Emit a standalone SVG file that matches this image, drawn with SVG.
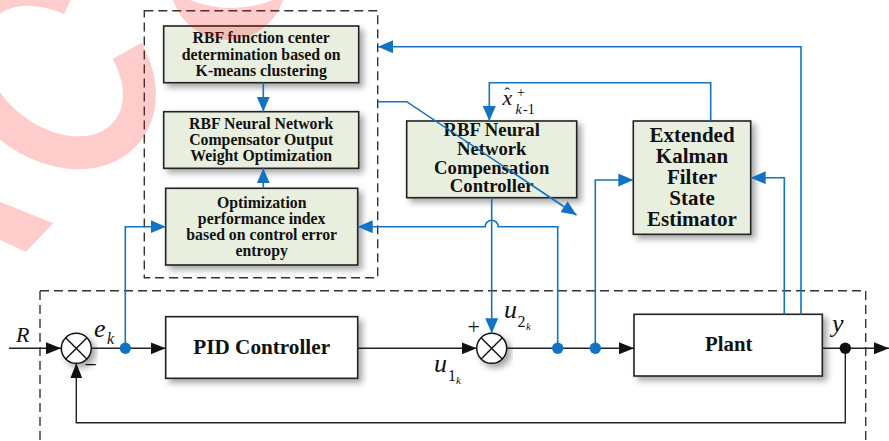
<svg xmlns="http://www.w3.org/2000/svg" width="889" height="441" viewBox="0 0 889 441">
<style>
.bx{fill:#e9efdf;stroke:#222;stroke-width:1.6}
.wb{fill:#fff;stroke:#222;stroke-width:1.6}
.t{font-family:'Liberation Serif','DejaVu Serif',serif;font-weight:bold;fill:#111;text-anchor:middle}
.it{font-family:'Liberation Serif','DejaVu Serif',serif;font-style:italic;fill:#111}
.up{font-family:'Liberation Serif','DejaVu Serif',serif;fill:#111}
.dash{fill:none;stroke:#333;stroke-width:1.4;stroke-dasharray:9 5}
.bl{fill:none;stroke:#222;stroke-width:1.4}
.bu{fill:none;stroke:#1272c4;stroke-width:1.6}
</style>
<defs>
<filter id="sh" x="-10%" y="-10%" width="130%" height="140%">
<feDropShadow dx="4" dy="4" stdDeviation="3" flood-color="#000" flood-opacity="0.35"/>
</filter>
<marker id="ak" markerUnits="userSpaceOnUse" markerWidth="16" markerHeight="12" refX="15" refY="6" orient="auto">
<path d="M0,0 L15,6 L0,12 z" fill="#111"/>
</marker>
<marker id="ab" markerUnits="userSpaceOnUse" markerWidth="16" markerHeight="13" refX="15" refY="6.5" orient="auto">
<path d="M0,0 L15,6.5 L0,13 z" fill="#1272c4"/>
</marker>
</defs>

<!-- dashed group boxes -->
<rect class="dash" x="144.3" y="10.7" width="233.4" height="267"/>
<rect class="dash" x="40" y="290.7" width="825.7" height="180"/>

<!-- nodes -->
<g id="kmeans">
<rect class="bx" x="163.7" y="26" width="195" height="56.7" filter="url(#sh)"/>
<text class="t" font-size="15.8"><tspan x="261.2" y="43.2">RBF function center</tspan><tspan x="261.2" y="59.6">determination based on</tspan><tspan x="261.2" y="75.8">K-means clustering</tspan></text>
</g>
<g id="weightopt">
<rect class="bx" x="163.7" y="111.7" width="195" height="56.6" filter="url(#sh)"/>
<text class="t" font-size="15.8"><tspan x="261.2" y="128.8">RBF Neural Network</tspan><tspan x="261.2" y="144.8">Compensator Output</tspan><tspan x="261.2" y="160.6">Weight Optimization</tspan></text>
</g>
<g id="perfindex">
<rect class="bx" x="165.7" y="188.3" width="192" height="76.7" filter="url(#sh)"/>
<text class="t" font-size="15.8"><tspan x="261.7" y="207.8">Optimization</tspan><tspan x="261.7" y="223.8">performance index</tspan><tspan x="261.7" y="239.8">based on control error</tspan><tspan x="261.7" y="255.6">entropy</tspan></text>
</g>
<g id="rbfcomp">
<rect class="bx" x="406.7" y="121" width="170" height="76.7" filter="url(#sh)"/>
<text class="t" font-size="18.7"><tspan x="491.7" y="136.3">RBF Neural</tspan><tspan x="491.7" y="155">Network</tspan><tspan x="491.7" y="173.7">Compensation</tspan><tspan x="491.7" y="192.3">Controller</tspan></text>
</g>
<g id="ekf">
<rect class="bx" x="633.3" y="121" width="117.4" height="113.3" filter="url(#sh)"/>
<text class="t" font-size="21"><tspan x="692" y="141.5">Extended</tspan><tspan x="692" y="162.7">Kalman</tspan><tspan x="692" y="183.9">Filter</tspan><tspan x="692" y="205.1">State</tspan><tspan x="692" y="226.3">Estimator</tspan></text>
</g>
<g id="pid">
<rect class="wb" x="165.7" y="316.7" width="192" height="61.6" filter="url(#sh)"/>
<text class="t" font-size="21.2" x="261.7" y="354.3">PID Controller</text>
</g>
<g id="plant">
<rect class="wb" x="634" y="314.3" width="188.3" height="61.7" filter="url(#sh)"/>
<text class="t" font-size="20.8" x="728.7" y="351.3">Plant</text>
</g>
<g id="sum1">
<circle cx="76.3" cy="348.3" r="15" fill="#fff" stroke="#111" stroke-width="1.5" filter="url(#sh)"/>
<path d="M65.7,337.7 L86.9,358.9 M86.9,337.7 L65.7,358.9" stroke="#111" stroke-width="1.4"/>
</g>
<g id="sum2">
<circle cx="491.7" cy="348.3" r="15" fill="#fff" stroke="#111" stroke-width="1.5" filter="url(#sh)"/>
<path d="M481.1,337.7 L502.3,358.9 M502.3,337.7 L481.1,358.9" stroke="#111" stroke-width="1.4"/>
</g>

<!-- connectors -->
<g id="connectors">
<path class="bl" d="M9,348.3 H61" marker-end="url(#ak)"/>
<path class="bl" d="M91.3,348.3 H165.7" marker-end="url(#ak)"/>
<path class="bl" d="M357.7,348.3 H476.7" marker-end="url(#ak)"/>
<path class="bl" d="M506.7,348.3 H634" marker-end="url(#ak)"/>
<path class="bl" d="M822.3,348.3 H889" marker-end="url(#ak)"/>
<path class="bl" d="M845.3,348.3 V422.7 H76.3 V363.3" marker-end="url(#ak)"/>

<path class="bu" d="M125.3,348.3 V226.7 H165.7" marker-end="url(#ab)"/>
<path class="bu" d="M557.7,348.3 V226.7 H498.2 A6.5,6.5 0 0 0 485.2,226.7 H357.7" marker-end="url(#ab)"/>
<path class="bu" d="M491.7,197.7 V333.3" marker-end="url(#ab)"/>
<path class="bu" d="M595.3,348.3 V180 H633.3" marker-end="url(#ab)"/>
<path class="bu" d="M784.3,314.3 V177.7 H750.7" marker-end="url(#ab)"/>
<path class="bu" d="M801,314.3 V46.7 H378" marker-end="url(#ab)"/>
<path class="bu" d="M710.7,121 V82.7 H489.3 V121" marker-end="url(#ab)"/>
<path class="bu" d="M263.3,82.7 V111.7" marker-end="url(#ab)"/>
<path class="bu" d="M263.3,188.3 V168.3" marker-end="url(#ab)"/>
<path class="bu" stroke-width="1.3" d="M378,101.7 H406.7 L576.5,215" marker-end="url(#ab)"/>

<circle cx="125.3" cy="348.3" r="5.7" fill="#1272c4"/>
<circle cx="557.7" cy="348.3" r="5.7" fill="#1272c4"/>
<circle cx="595.3" cy="348.3" r="5.7" fill="#1272c4"/>
<circle cx="845.3" cy="348.3" r="5.7" fill="#111"/>
</g>

<!-- labels -->
<g>
<text class="it" font-size="22" x="16" y="341.7">R</text>
<text class="it" font-size="26" x="94" y="337">e</text>
<text class="it" font-size="16" x="107" y="344">k</text>
<text class="up" font-size="22" x="84.5" y="371.5">−</text>
<text class="up" font-size="22" x="467.5" y="333.5">+</text>
<text class="it" font-size="26" x="504" y="318.3">u</text>
<text class="up" font-size="16" x="517.5" y="327">2</text>
<text class="it" font-size="11" x="526" y="330">k</text>
<text class="it" font-size="26" x="434" y="371.7">u</text>
<text class="up" font-size="16" x="448" y="381">1</text>
<text class="it" font-size="11" x="456" y="384">k</text>
<text class="it" font-size="26" x="832" y="331.5">y</text>
<text class="it" font-size="22" x="502.5" y="105">x</text>
<text class="up" font-size="16" x="504.5" y="99">ˆ</text>
<text class="up" font-size="14" x="517" y="97">+</text>
<text class="it" font-size="14" x="515.5" y="113.5">k</text>
<text class="up" font-size="14" x="523" y="113.5">-1</text>
</g>

<!-- watermark -->
<g id="watermark" fill="#ff0000" fill-opacity="0.2">
<g transform="translate(53.4,71.1) rotate(40)">
<path d="M43.4,-62.8 A95.5,70.5 0 1 1 -32.7,-66.3" fill="none" stroke="#ff0000" stroke-opacity="0.2" stroke-width="33"/>
</g>
<path d="M173,0 A57.8,57.8 0 0 0 283,0 L273,0 A112,112 0 0 1 190,0 Z"/>
<polygon points="0,201.7 53.3,223.3 25.7,251.7 0,240"/>
</g>
</svg>
